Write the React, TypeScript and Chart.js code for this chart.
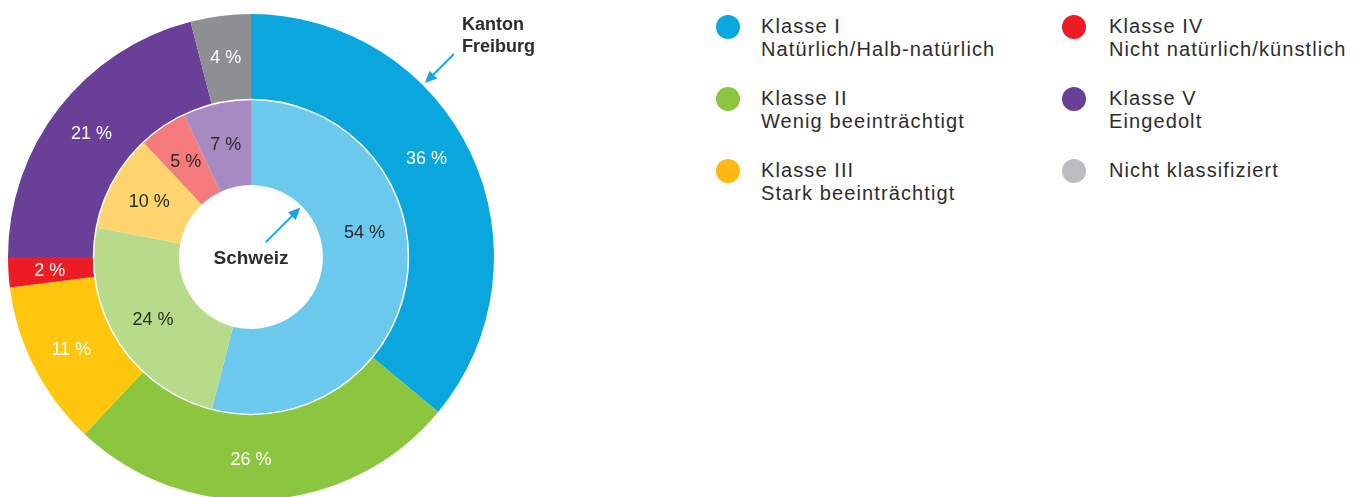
import React, { useEffect, useRef } from "react";
import { Chart, registerables } from "chart.js";

Chart.register(...registerables);

// ---------- data ----------
const categories = ["Klasse I", "Klasse II", "Klasse III", "Klasse IV", "Klasse V", "Nicht klassifiziert"];
const categorySubtitles = [
  "Natürlich/Halb-natürlich",
  "Wenig beeinträchtigt",
  "Stark beeinträchtigt",
  "Nicht natürlich/künstlich",
  "Eingedolt",
  "",
];
const seriesNames = ["Kanton Freiburg", "Schweiz"];
const kantonFreiburg = [36, 26, 11, 2, 21, 4];
const schweiz = [54, 24, 10, 5, 7, 0];

// ---------- styles ----------
const FONT = '"Liberation Sans", Arial, Helvetica, sans-serif';
const outerColors = ["#0aa7df", "#8cc63f", "#fec70e", "#ed1c24", "#6a3f97", "#8d8f93"];
const innerColors = ["#6cc9ee", "#b8db8b", "#fdd46e", "#f47a7b", "#a78ac2", "#d0d1d3"];
const legendColors = ["#0aa7df", "#8cc63f", "#fdb813", "#ed1c24", "#6a3f97", "#bcbdc0"];
const labelColors = ["#ffffff", "#2b2b2b"];
// small angular nudges (degrees) of some percentage labels, per ring
const labelNudgeDeg = [
  [-4.3, 3.6, 0, 0, 0, 0],
  [-19.8, 0, 0, 0, 0, 0],
];
const ARROW_COLOR = "#1ca5dc";
const TEXT_COLOR = "#2d2d2d";

function drawArrow(ctx: CanvasRenderingContext2D, x1: number, y1: number, x2: number, y2: number) {
  const ang = Math.atan2(y2 - y1, x2 - x1);
  const headLen = 12;
  const headHalf = 5.5;
  ctx.save();
  ctx.strokeStyle = ARROW_COLOR;
  ctx.fillStyle = ARROW_COLOR;
  ctx.lineWidth = 2;
  ctx.beginPath();
  ctx.moveTo(x1, y1);
  ctx.lineTo(x2 - Math.cos(ang) * headLen * 0.8, y2 - Math.sin(ang) * headLen * 0.8);
  ctx.stroke();
  ctx.beginPath();
  ctx.moveTo(x2, y2);
  ctx.lineTo(
    x2 - Math.cos(ang) * headLen + Math.sin(ang) * headHalf,
    y2 - Math.sin(ang) * headLen - Math.cos(ang) * headHalf
  );
  ctx.lineTo(
    x2 - Math.cos(ang) * headLen - Math.sin(ang) * headHalf,
    y2 - Math.sin(ang) * headLen + Math.cos(ang) * headHalf
  );
  ctx.closePath();
  ctx.fill();
  ctx.restore();
}

const ringPlugin = {
  id: "ringDecor",
  afterDatasetsDraw(chart: any) {
    const ctx: CanvasRenderingContext2D = chart.ctx;
    const outerMeta = chart.getDatasetMeta(0);
    const innerMeta = chart.getDatasetMeta(1);
    const o = outerMeta.data[0].getProps(["x", "y", "innerRadius", "outerRadius"], true);
    const inn = innerMeta.data[0].getProps(["innerRadius", "outerRadius"], true);
    const cx = o.x;
    const cy = o.y;

    // white separating line between rings
    ctx.save();
    ctx.strokeStyle = "#ffffff";
    ctx.lineWidth = 1.5;
    ctx.beginPath();
    ctx.arc(cx, cy, o.innerRadius, 0, Math.PI * 2);
    ctx.stroke();
    ctx.restore();

    // percentage labels
    ctx.save();
    ctx.font = `18px ${FONT}`;
    ctx.textAlign = "center";
    ctx.textBaseline = "middle";
    chart.data.datasets.forEach((ds: any, di: number) => {
      const meta = chart.getDatasetMeta(di);
      meta.data.forEach((arc: any, i: number) => {
        const v = ds.data[i];
        if (!v) return;
        const p = arc.getProps(["x", "y", "startAngle", "endAngle", "innerRadius", "outerRadius"], true);
        const a = (p.startAngle + p.endAngle) / 2 + ((labelNudgeDeg[di][i] || 0) * Math.PI) / 180;
        const r = (p.innerRadius + p.outerRadius) / 2 + 1.5;
        ctx.fillStyle = labelColors[di];
        ctx.fillText(`${v} %`, p.x + Math.cos(a) * r, p.y + Math.sin(a) * r + 1);
      });
    });
    ctx.restore();

    // annotations
    const d = Math.SQRT1_2;
    const R = o.outerRadius;
    // Kanton Freiburg arrow (points inward to outer ring)
    drawArrow(ctx, cx + d * (R + 44), cy - d * (R + 44), cx + d * (R + 3), cy - d * (R + 3));
    ctx.save();
    ctx.fillStyle = TEXT_COLOR;
    ctx.font = `bold 18px ${FONT}`;
    ctx.textAlign = "left";
    ctx.textBaseline = "alphabetic";
    ctx.fillText(seriesNames[0].split(" ")[0], cx + 211, cy - 227);
    ctx.fillText(seriesNames[0].split(" ")[1], cx + 211, cy - 205);
    ctx.restore();

    // Schweiz arrow (points outward to inner ring)
    const h = inn.innerRadius;
    drawArrow(ctx, cx + d * 21, cy - d * 21, cx + d * (h - 2), cy - d * (h - 2));
    ctx.save();
    ctx.fillStyle = TEXT_COLOR;
    ctx.font = `bold 19px ${FONT}`;
    ctx.textAlign = "center";
    ctx.textBaseline = "alphabetic";
    ctx.fillText(seriesNames[1], cx, cy + 6.5);
    ctx.restore();
  },
};

function Legend() {
  const colX = [728, 1074];
  const textX = [761, 1109];
  const baselines = [33.3, 105.3, 177.3];
  const fontSize = 20;
  const lineHeight = 23;
  const baselineOffset = (lineHeight - fontSize * 1.117) / 2 + fontSize * 0.905;
  return (
    <>
      {categories.map((c, i) => {
        const col = Math.floor(i / 3);
        const row = i % 3;
        const base = baselines[row];
        return (
          <React.Fragment key={c}>
            <div
              style={{
                position: "absolute",
                left: colX[col] - 12 - 8,
                top: base - 6.7 - 12 - 8,
                width: 24,
                height: 24,
                borderRadius: "50%",
                background: legendColors[i],
              }}
            />
            <div
              style={{
                position: "absolute",
                left: textX[col] - 8,
                top: base - baselineOffset - 8,
                fontFamily: FONT,
                fontSize,
                lineHeight: `${lineHeight}px`,
                letterSpacing: "1.1px",
                color: TEXT_COLOR,
                whiteSpace: "nowrap",
              }}
            >
              <div>{c}</div>
              {categorySubtitles[i] ? <div>{categorySubtitles[i]}</div> : null}
            </div>
          </React.Fragment>
        );
      })}
    </>
  );
}

export default function App() {
  const canvasRef = useRef<HTMLCanvasElement | null>(null);

  useEffect(() => {
    if (!canvasRef.current) return;
    const chart = new Chart(canvasRef.current, {
      type: "doughnut",
      data: {
        labels: categories,
        datasets: [
          {
            label: seriesNames[0],
            data: kantonFreiburg,
            backgroundColor: outerColors,
            borderWidth: 0,
          },
          {
            label: seriesNames[1],
            data: schweiz,
            backgroundColor: innerColors,
            borderWidth: 0,
          },
        ],
      },
      options: {
        responsive: false,
        animation: false,
        events: [],
        cutout: "29.6%",
        layout: { padding: { top: 6, right: 74, left: 0, bottom: 0 } },
        plugins: {
          legend: { display: false },
          tooltip: { enabled: false },
          title: { display: false },
        },
      },
      plugins: [ringPlugin],
    });
    return () => chart.destroy();
  }, []);

  return (
    <div style={{ position: "relative", width: 1339, height: 489 }}>
      <canvas
        ref={canvasRef}
        width={560}
        height={492}
        style={{ position: "absolute", left: 0, top: 0, width: 560, height: 492 }}
      />
      <Legend />
    </div>
  );
}
